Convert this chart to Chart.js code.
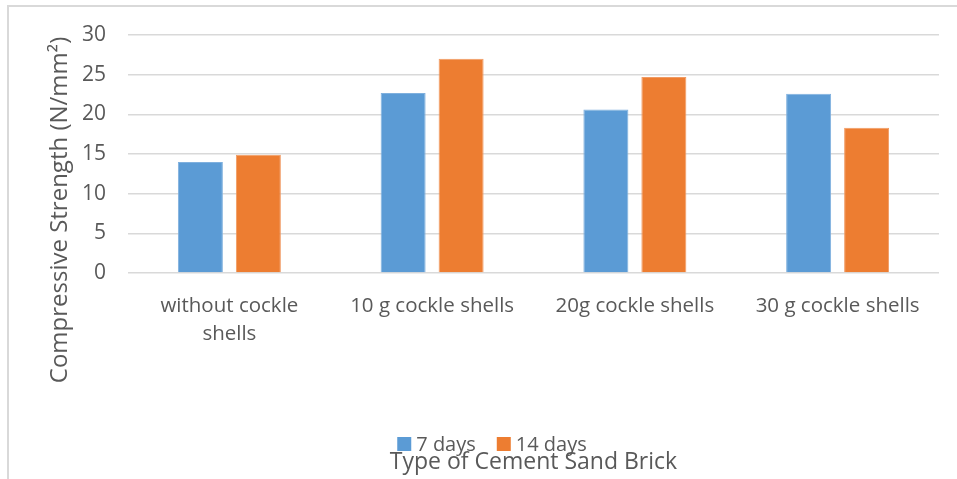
<!DOCTYPE html>
<html><head><meta charset="utf-8">
<script src="https://cdn.jsdelivr.net/npm/chart.js@4.4.1/dist/chart.umd.min.js"></script>
<style>
html,body{margin:0;padding:0;background:#fff;}
#wrap{position:absolute;left:0;top:0;width:957px;height:479px;}
#frame{position:absolute;left:7px;top:5px;width:960px;height:480px;border-left:2px solid #d9d9d9;border-top:2px solid #d9d9d9;box-sizing:border-box;}
canvas{position:absolute;left:0;top:0;}
</style></head>
<body>
<div id="wrap"><div id="frame"></div><canvas id="c" width="957" height="479"></canvas></div>
<script>
const categories = [["without cockle","shells"], "10 g cockle shells", "20g cockle shells", "30 g cockle shells"];
const seriesNames = ["7 days", "14 days"];
const days7 = [14.0, 22.7, 20.6, 22.6];
const days14 = [14.9, 27.0, 24.7, 18.3];
const yTicks = [0, 5, 10, 15, 20, 25, 30];
const yTitle = "Compressive Strength (N/mm\u00B2)";
const xTitle = "Type of Cement Sand Brick";
const colors = ["#5B9BD5", "#ED7D31"];
const borderColors = ["#7FB0DE", "#F19A62"];

const FONT = "'Open Sans', sans-serif";
const TXT = "#595959";

const extras = {
  id: 'extras',
  afterDraw(chart) {
    const ctx = chart.ctx;
    const ca = chart.chartArea;
    ctx.save();
    ctx.fillStyle = TXT;
    // y title
    ctx.font = "24px " + FONT;
    ctx.textAlign = "center";
    ctx.textBaseline = "middle";
    ctx.translate(60, 210);
    ctx.rotate(-Math.PI / 2);
    ctx.fillText(yTitle, 0, 0);
    ctx.restore();
    // legend
    ctx.save();
    ctx.font = "20px " + FONT;
    ctx.textBaseline = "middle";
    const box = 14, gapText = 5, gapItem = 21;
    const ly = 444;
    const ds = chart.data.datasets;
    let total = 0;
    const widths = ds.map(d => ctx.measureText(d.label).width);
    widths.forEach((w, i) => { total += box + gapText + w + (i < ds.length - 1 ? gapItem : 0); });
    let x = 492 - total / 2;
    ds.forEach((d, i) => {
      ctx.fillStyle = d.backgroundColor;
      ctx.fillRect(x, ly - box / 2, box, box);
      ctx.fillStyle = TXT;
      ctx.textAlign = "left";
      ctx.fillText(d.label, x + box + gapText, ly + 1);
      x += box + gapText + widths[i] + gapItem;
    });
    // x title
    ctx.font = "23px " + FONT;
    ctx.textAlign = "center";
    ctx.fillStyle = TXT;
    ctx.fillText(xTitle, (ca.left + ca.right) / 2, 462);
    ctx.restore();
  }
};

new Chart(document.getElementById('c'), {
  type: 'bar',
  data: {
    labels: categories,
    datasets: [
      { label: seriesNames[0], data: days7, backgroundColor: colors[0], borderColor: borderColors[0], borderWidth: 1 },
      { label: seriesNames[1], data: days14, backgroundColor: colors[1], borderColor: borderColors[1], borderWidth: 1 }
    ]
  },
  options: {
    responsive: false,
    animation: false,
    devicePixelRatio: 1,
    layout: { padding: { top: 35, right: 18, left: 0, bottom: 0 } },
    categoryPercentage: 0.572,
    barPercentage: 0.776,
    plugins: { legend: { display: false }, tooltip: { enabled: false } },
    scales: {
      x: {
        grid: { display: false, drawTicks: false },
        border: { display: false },
        ticks: { color: TXT, font: { family: FONT, size: 20.5, lineHeight: 1.37 }, padding: 19, maxRotation: 0, autoSkip: false },
        afterFit(s) { s.height = 206; }
      },
      y: {
        min: 0, max: 30,
        afterBuildTicks(s) { s.ticks = yTicks.map(v => ({ value: v })); },
        grid: { color: "#d9d9d9", lineWidth: 1.5, drawTicks: false },
        border: { display: false },
        ticks: { color: TXT, font: { family: FONT, size: 21 }, padding: 22 },
        afterFit(s) { s.width = 128; }
      }
    }
  },
  plugins: [extras]
});
</script>
</body></html>
